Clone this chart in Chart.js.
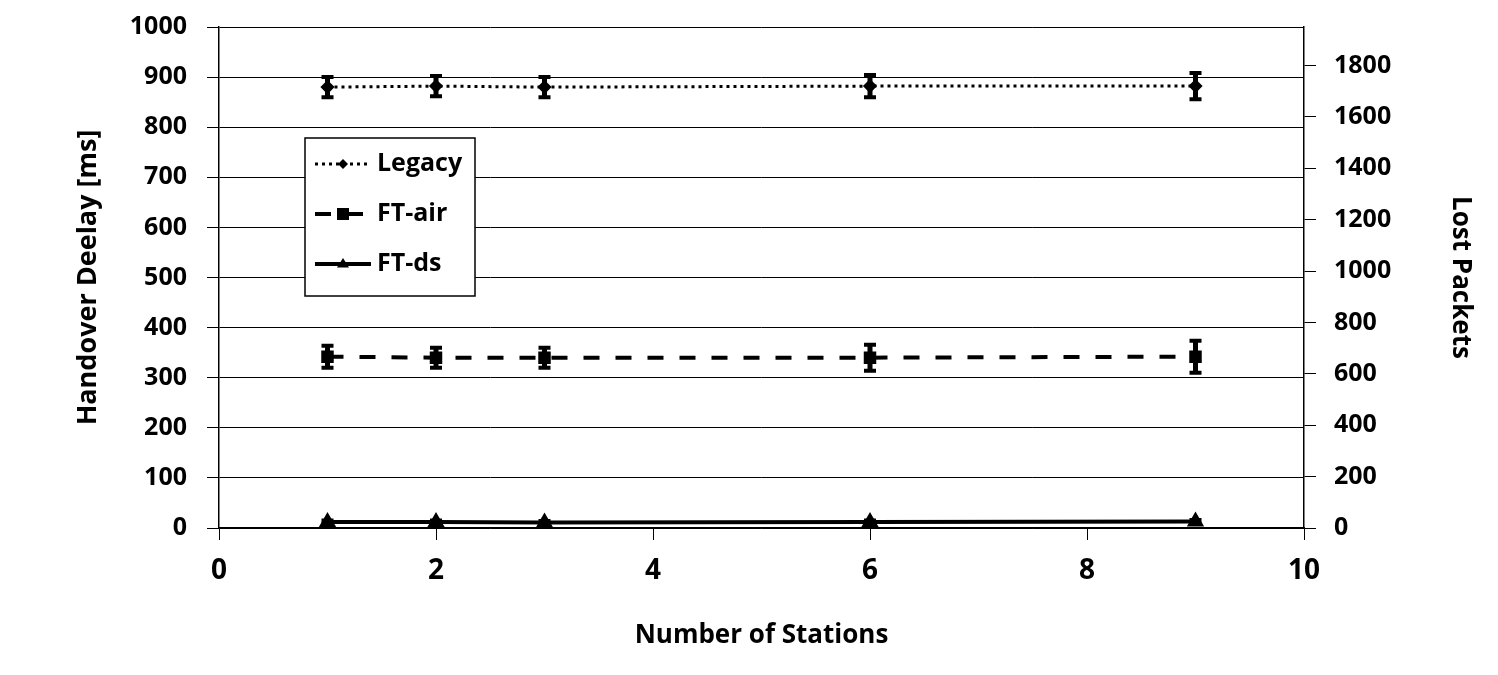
<!DOCTYPE html>
<html>
<head>
<meta charset="utf-8">
<script src="https://cdn.jsdelivr.net/npm/chart.js@4.4.1/dist/chart.umd.min.js"></script>
<style>
  body { margin: 0; background: #fff; }
  canvas { display: block; }
</style>
</head>
<body>
<canvas id="chart" width="1498" height="675"></canvas>
<script>
// number of stations (x)
const stations = [1, 2, 3, 6, 9];

// handover delay [ms] with error bars
const legacy = [880, 882, 880, 882, 882];
const legacyErr = [20, 20, 20, 22, 26];
const ftAir = [342, 340, 340, 340, 342];
const ftAirErr = [22, 20, 20, 26, 32];
const ftDs = [12, 12, 11, 12, 13];
const ftDsErr = [3, 3, 3, 3, 3];

const seriesNames = ['Legacy', 'FT-air', 'FT-ds'];

const FONT = "'Open Sans', sans-serif";

function pts(ys) {
  return stations.map((x, i) => ({ x: x, y: ys[i] }));
}

// vertical error bars, drawn with the chart's own scales
const errorBars = {
  id: 'errorBars',
  afterDatasetsDraw(chart) {
    const ctx = chart.ctx;
    const xs = chart.scales.x, ys = chart.scales.y;
    chart.data.datasets.forEach(ds => {
      if (!ds.errors) return;
      ctx.save();
      ctx.strokeStyle = '#000';
      ds.data.forEach((p, i) => {
        const px = xs.getPixelForValue(p.x);
        const top = ys.getPixelForValue(p.y + ds.errors[i]);
        const bot = ys.getPixelForValue(p.y - ds.errors[i]);
        ctx.lineWidth = 5;
        ctx.beginPath();
        ctx.moveTo(px, top);
        ctx.lineTo(px, bot);
        ctx.stroke();
        ctx.lineWidth = 4;
        ctx.beginPath();
        ctx.moveTo(px - 6, top); ctx.lineTo(px + 6, top);
        ctx.moveTo(px - 6, bot); ctx.lineTo(px + 6, bot);
        ctx.stroke();
      });
      ctx.restore();
    });
  }
};

// boxed legend inside the plot area
const boxLegend = {
  id: 'boxLegend',
  afterDraw(chart) {
    const ctx = chart.ctx;
    const bx = 305, by = 138, bw = 170, bh = 158;
    ctx.save();
    ctx.fillStyle = '#fff';
    ctx.fillRect(bx, by, bw, bh);
    ctx.strokeStyle = '#000';
    ctx.lineWidth = 1.5;
    ctx.strokeRect(bx, by, bw, bh);
    ctx.font = "bold 25px " + FONT;
    ctx.textBaseline = 'middle';
    chart.data.datasets.forEach((ds, i) => {
      const cy = by + 26 + i * 50;
      ctx.strokeStyle = '#000';
      ctx.lineWidth = ds.borderWidth;
      ctx.setLineDash(ds.borderDash || []);
      ctx.beginPath();
      ctx.moveTo(bx + 10, cy);
      ctx.lineTo(bx + 66, cy);
      ctx.stroke();
      ctx.setLineDash([]);
      ctx.fillStyle = '#000';
      const mx = bx + 38, r = ds.pointRadius;
      ctx.beginPath();
      if (ds.pointStyle === 'rectRot') {
        ctx.moveTo(mx, cy - r); ctx.lineTo(mx + r, cy); ctx.lineTo(mx, cy + r); ctx.lineTo(mx - r, cy);
      } else if (ds.pointStyle === 'rect') {
        ctx.rect(mx - r, cy - r, 2 * r, 2 * r);
      } else {
        ctx.moveTo(mx, cy - r); ctx.lineTo(mx + r, cy + r * 0.6); ctx.lineTo(mx - r, cy + r * 0.6);
      }
      ctx.closePath();
      ctx.fill();
      ctx.fillText(ds.label, bx + 72, cy);
    });
    ctx.restore();
  }
};

const plain = v => String(v);

new Chart(document.getElementById('chart'), {
  type: 'line',
  data: {
    datasets: [
      {
        label: seriesNames[0], data: pts(legacy), errors: legacyErr,
        borderColor: '#000', backgroundColor: '#000', borderWidth: 3,
        borderDash: [3, 4], pointStyle: 'rectRot', pointRadius: 5
      },
      {
        label: seriesNames[1], data: pts(ftAir), errors: ftAirErr,
        borderColor: '#000', backgroundColor: '#000', borderWidth: 4,
        borderDash: [16, 16], pointStyle: 'rect', pointRadius: 6
      },
      {
        label: seriesNames[2], data: pts(ftDs), errors: ftDsErr,
        borderColor: '#000', backgroundColor: '#000', borderWidth: 4,
        pointStyle: 'triangle', pointRadius: 6
      }
    ]
  },
  options: {
    responsive: false,
    animation: false,
    layout: { padding: { top: 27, left: 0, right: 0, bottom: 0 } },
    plugins: { legend: { display: false }, tooltip: { enabled: false } },
    scales: {
      x: {
        type: 'linear', min: 0, max: 10,
        ticks: { stepSize: 2, color: '#000', padding: 14, callback: plain, font: { family: FONT, size: 28, weight: 'bold' } },
        grid: { drawOnChartArea: false, tickLength: 12, color: '#000' },
        border: { color: '#000', width: 1.5 },
        title: { display: true, text: 'Number of Stations', color: '#000', padding: { top: 0, bottom: 24 }, font: { family: FONT, size: 26, weight: 'bold' } },
        afterFit(s) { s.height = 147; }
      },
      y: {
        position: 'left', min: 0, max: 1000,
        ticks: { stepSize: 100, color: '#000', padding: 20, callback: plain, font: { family: FONT, size: 25, weight: 'bold' } },
        grid: { color: '#000', lineWidth: 1, tickLength: 12 },
        border: { color: '#000', width: 1.5 },
        title: { display: true, text: 'Handover Deelay [ms]', color: '#000', padding: { top: 72, bottom: 0 }, font: { family: FONT, size: 27, weight: 'bold' } },
        afterFit(s) { s.width = 219; s.paddingTop = 0; s.paddingBottom = 0; }
      },
      y2: {
        position: 'right', min: 0, max: 1950,
        ticks: { stepSize: 200, color: '#000', padding: 18, callback: plain, font: { family: FONT, size: 25, weight: 'bold' } },
        afterBuildTicks(s) { s.ticks = s.ticks.filter(t => t.value % 200 === 0); },
        grid: { drawOnChartArea: false, color: '#000', tickLength: 12 },
        border: { color: '#000', width: 1.5 },
        title: { display: true, text: 'Lost Packets', color: '#000', padding: { top: 22, bottom: 0 }, font: { family: FONT, size: 26, weight: 'bold' } },
        afterFit(s) { s.width = 194; s.paddingTop = 0; s.paddingBottom = 0; }
      }
    }
  },
  plugins: [errorBars, boxLegend]
});
</script>
</body>
</html>
